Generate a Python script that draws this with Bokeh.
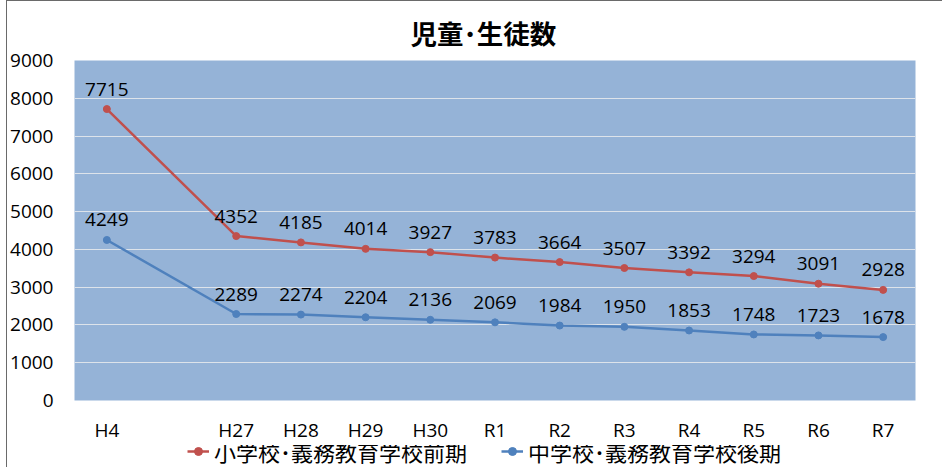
from bokeh.plotting import figure
from bokeh.layouts import column
from bokeh.models import (ColumnDataSource, LabelSet, Legend, LegendItem,
                          FixedTicker, FactorRange, Range1d)
from bokeh.core.properties import value
from bokeh.embed import file_html
from bokeh.resources import INLINE

# ---- data ----
categories = ["H4", " ", "H27", "H28", "H29", "H30", "R1", "R2", "R3", "R4", "R5", "R6", "R7"]
years = ["H4", "H27", "H28", "H29", "H30", "R1", "R2", "R3", "R4", "R5", "R6", "R7"]
elementary = [7715, 4352, 4185, 4014, 3927, 3783, 3664, 3507, 3392, 3294, 3091, 2928]
junior = [4249, 2289, 2274, 2204, 2136, 2069, 1984, 1950, 1853, 1748, 1723, 1678]
y_ticks = [0, 1000, 2000, 3000, 4000, 5000, 6000, 7000, 8000, 9000]
title_text = "児童･生徒数"
name_elem = "小学校･義務教育学校前期"
name_junior = "中学校･義務教育学校後期"

RED = "#C0504D"
BLUE = "#4F81BD"
NUM_FONT = "Open Sans"
CJK_FONT = "Noto Sans CJK JP"

p = figure(width=935, height=444, output_backend="svg", toolbar_location=None,
           x_range=FactorRange(factors=categories, range_padding=0),
           y_range=Range1d(0, 9000),
           min_border_left=67, min_border_right=27, min_border_top=58, min_border_bottom=45,
           background_fill_color="#95B3D7", border_fill_color="white",
           outline_line_color=None)

p.title.text = title_text
p.title.align = "left"
p.title.offset = 336
p.title.text_font = CJK_FONT
p.title.text_font_size = "26.5px"
p.title.text_font_style = "bold"
p.title.text_color = "black"
p.title.standoff = 18

src_e = ColumnDataSource(dict(x=years, y=elementary, label=[str(v) for v in elementary]))
src_j = ColumnDataSource(dict(x=years, y=junior, label=[str(v) for v in junior]))

le = p.line("x", "y", source=src_e, line_color=RED, line_width=2.5)
se = p.scatter("x", "y", source=src_e, size=7, fill_color=RED, line_color=RED)
lj = p.line("x", "y", source=src_j, line_color=BLUE, line_width=2.5)
sj = p.scatter("x", "y", source=src_j, size=7, fill_color=BLUE, line_color=BLUE)

for src in (src_e, src_j):
    p.add_layout(LabelSet(x="x", y="y", text="label", source=src, y_offset=20,
                          text_align="center", text_baseline="middle",
                          text_font=value(NUM_FONT), text_font_size="19px",
                          text_color="black"))

# axes
p.yaxis.ticker = FixedTicker(ticks=y_ticks)
p.ygrid.ticker = FixedTicker(ticks=y_ticks)
p.ygrid.grid_line_color = "#DDE3EA"
p.ygrid.grid_line_width = 1
p.xgrid.grid_line_color = None
for ax in (p.xaxis, p.yaxis):
    ax.axis_line_color = None
    ax.major_tick_line_color = None
    ax.minor_tick_line_color = None
    ax.major_tick_out = 0
    ax.major_label_text_font = NUM_FONT
    ax.major_label_text_font_size = "19px"
    ax.major_label_text_color = "black"
p.yaxis.major_label_standoff = 21
p.xaxis.major_label_standoff = 16

# ---- legend strip below the chart (key glyphs only; their single point lies outside the view) ----
lg = figure(width=935, height=22, output_backend="svg", toolbar_location=None,
            x_range=Range1d(0, 1), y_range=Range1d(0, 1), min_border=0,
            outline_line_color=None, border_fill_color="white", background_fill_color="white")
lg.axis.visible = False
lg.grid.visible = False
key_src = ColumnDataSource(dict(x=[-5], y=[-5]))
kle = lg.line("x", "y", source=key_src, line_color=RED, line_width=2.5)
kse = lg.scatter("x", "y", source=key_src, size=7, fill_color=RED, line_color=RED)
klj = lg.line("x", "y", source=key_src, line_color=BLUE, line_width=2.5)
ksj = lg.scatter("x", "y", source=key_src, size=7, fill_color=BLUE, line_color=BLUE)

legend = Legend(items=[LegendItem(label=name_elem, renderers=[kle, kse]),
                       LegendItem(label=name_junior, renderers=[klj, ksj])],
                orientation="horizontal", location=(113, 0),
                padding=0, margin=0, spacing=34, label_standoff=5,
                glyph_width=22, glyph_height=20, label_height=22,
                label_text_font=CJK_FONT, label_text_font_size="22px",
                label_text_color="black",
                background_fill_alpha=0, border_line_color=None)
lg.add_layout(legend, "center")

layout = column(p, lg, spacing=0,
                styles={"border-top": "1px solid #6a6a6a", "border-left": "1px solid #6a6a6a",
                        "margin-top": "0px", "margin-left": "6px"})
open("out.html", "w").write(file_html(layout, INLINE))
